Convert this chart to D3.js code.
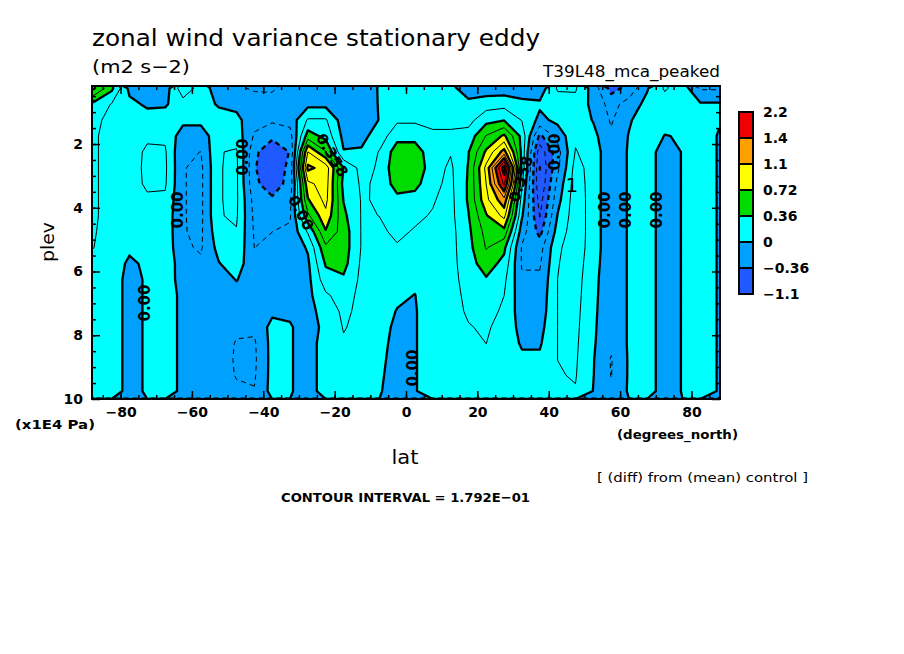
<!DOCTYPE html>
<html>
<head>
<meta charset="utf-8">
<script src="https://cdn.jsdelivr.net/npm/d3@7/dist/d3.min.js"></script>
<style>
  body { margin: 0; background: #fff; }
  text { font-family: "DejaVu Sans", Verdana, sans-serif; fill: #000; }
</style>
</head>
<body>
<div id="chart"></div>
<script>
// grid centres (lat in degrees, plev in x1E4 Pa)
const lats = [-87.5, -82.5, -77.5, -72.5, -67.5, -62.5, -57.5, -52.5, -47.5, -42.5, -37.5, -32.5,
              -27.5, -22.5, -17.5, -12.5, -7.5, -2.5, 2.5, 7.5, 12.5, 17.5, 22.5, 27.5,
              32.5, 37.5, 42.5, 47.5, 52.5, 57.5, 62.5, 67.5, 72.5, 77.5, 82.5, 87.5];
const plevs = [0.25, 0.75, 1.25, 1.75, 2.25, 2.75, 3.25, 3.75, 4.25, 4.75,
               5.25, 5.75, 6.25, 6.75, 7.25, 7.75, 8.25, 8.75, 9.25, 9.75];

// one vertical profile (top -> bottom, matching plevs) per latitude in lats
const profiles = [
  [0.74,0.3,0.22,0.2,0.2,0.2,0.2,0.2,0.2,0.19,0.18,0.16,0.15,0.15,0.15,0.15,0.15,0.15,0.15,0.15],
  [0.4,0.17,0.13,0.12,0.12,0.12,0.12,0.12,0.12,0.12,0.12,0.12,0.12,0.12,0.12,0.12,0.12,0.12,0.12,0.12],
  [-0.05,0.05,0.1,0.1,0.1,0.1,0.1,0.1,0.1,0.1,0.04,-0.04,-0.08,-0.08,-0.08,-0.08,-0.08,-0.08,-0.08,-0.08],
  [-0.12,-0.03,0.08,0.15,0.21,0.22,0.21,0.15,0.1,0.08,0.06,0.04,0.03,0.03,0.03,0.03,0.03,0.03,0.03,0.03],
  [-0.1,-0.02,0.08,0.15,0.2,0.21,0.2,0.15,0.12,0.12,0.12,0.12,0.1,0.1,0.1,0.1,0.1,0.1,0.1,0.1],
  [0.3,0.1,0.05,-0.1,-0.17,-0.17,-0.17,-0.17,-0.17,-0.17,-0.15,-0.1,-0.08,-0.05,-0.05,-0.05,-0.05,-0.05,-0.05,-0.05],
  [0.1,0.08,0.05,-0.1,-0.18,-0.22,-0.22,-0.22,-0.22,-0.21,-0.2,-0.15,-0.1,-0.1,-0.1,-0.1,-0.1,-0.1,-0.1,-0.1],
  [-0.1,-0.02,0.08,0.12,0.17,0.17,0.17,0.17,0.17,0.12,0.06,-0.01,-0.1,-0.1,-0.1,-0.1,-0.1,-0.1,-0.1,-0.1],
  [-0.15,-0.05,0.05,0.1,0.2,0.21,0.21,0.21,0.2,0.17,0.14,0.1,0.01,-0.08,-0.12,-0.15,-0.19,-0.2,-0.19,-0.15],
  [-0.2,-0.1,-0.12,-0.2,-0.32,-0.34,-0.32,-0.25,-0.22,-0.2,-0.18,-0.15,-0.12,-0.1,-0.1,-0.15,-0.2,-0.21,-0.2,-0.17],
  [-0.2,-0.12,-0.15,-0.32,-0.48,-0.52,-0.45,-0.33,-0.25,-0.18,-0.15,-0.1,-0.1,-0.08,-0.04,0.06,0.06,0.06,0.06,0.06],
  [-0.1,-0.1,-0.12,-0.25,-0.35,-0.3,-0.3,-0.22,-0.2,-0.15,-0.12,-0.1,-0.08,-0.05,-0.02,0.01,0.01,0.01,0.01,0.01],
  [-0.1,-0.05,0.2,0.45,0.9,1.12,0.85,0.7,0.5,0.2,0.02,-0.03,-0.05,-0.05,-0.05,-0.05,-0.05,-0.05,-0.05,-0.05],
  [-0.1,-0.05,0.2,0.3,0.55,1.0,0.98,0.95,0.85,0.7,0.5,0.38,0.28,0.15,0.06,0.03,0.05,0.05,0.05,0.05],
  [-0.1,-0.12,-0.1,-0.05,0.01,0.35,0.3,0.35,0.4,0.45,0.45,0.42,0.33,0.26,0.22,0.19,0.16,0.13,0.13,0.13],
  [-0.08,-0.1,-0.1,-0.05,0.02,0.12,0.16,0.17,0.17,0.17,0.17,0.15,0.14,0.13,0.13,0.13,0.13,0.13,0.13,0.13],
  [0.01,0.01,0.005,0.08,0.19,0.2,0.2,0.19,0.18,0.16,0.15,0.14,0.13,0.12,0.1,0.09,0.07,0.05,0.03,0.015],
  [0.1,0.1,0.15,0.3,0.45,0.5,0.45,0.3,0.22,0.2,0.17,0.15,0.12,0.04,-0.01,-0.05,-0.07,-0.08,-0.08,-0.08],
  [0.1,0.1,0.15,0.3,0.45,0.5,0.42,0.28,0.2,0.17,0.15,0.12,0.05,-0.005,-0.02,-0.02,-0.02,-0.02,-0.02,-0.02],
  [0.1,0.1,0.15,0.2,0.25,0.25,0.22,0.19,0.17,0.15,0.15,0.15,0.15,0.15,0.15,0.15,0.15,0.15,0.15,0.15],
  [0.05,0.1,0.15,0.2,0.19,0.15,0.14,0.13,0.13,0.12,0.12,0.12,0.12,0.12,0.12,0.12,0.12,0.12,0.12,0.12],
  [-0.1,0.05,0.12,0.25,0.35,0.37,0.38,0.38,0.35,0.32,0.3,0.28,0.25,0.22,0.2,0.17,0.15,0.14,0.13,0.13],
  [-0.1,0.1,0.3,0.55,0.75,0.95,0.9,0.85,0.7,0.6,0.55,0.45,0.34,0.28,0.24,0.2,0.18,0.16,0.15,0.15],
  [-0.1,0.12,0.35,0.75,1.15,1.9,1.65,1.2,0.95,0.65,0.4,0.3,0.22,0.18,0.15,0.12,0.1,0.1,0.1,0.1],
  [-0.1,0.05,0.17,0.3,0.3,0.3,0.2,0.1,0.02,-0.1,-0.2,-0.2,-0.15,-0.12,-0.1,-0.06,-0.02,0.03,0.05,0.05],
  [-0.1,0.03,-0.05,-0.4,-0.65,-0.72,-0.7,-0.62,-0.55,-0.42,-0.25,-0.2,-0.15,-0.12,-0.1,-0.06,-0.02,0.03,0.06,0.06],
  [0.2,0.1,0.05,-0.12,-0.25,-0.22,-0.12,-0.06,0.01,0.08,0.15,0.17,0.18,0.18,0.18,0.18,0.18,0.18,0.17,0.15],
  [0.2,0.12,0.1,0.15,0.19,0.25,0.27,0.28,0.28,0.28,0.27,0.26,0.25,0.24,0.23,0.22,0.21,0.2,0.19,0.17],
  [-0.08,-0.05,-0.01,0.05,0.1,0.1,0.1,0.1,0.1,0.1,0.1,0.08,0.06,0.05,0.04,0.03,0.02,0.01,0.005,-0.005],
  [-0.42,-0.25,-0.2,-0.15,-0.14,-0.14,-0.14,-0.14,-0.14,-0.14,-0.14,-0.14,-0.14,-0.14,-0.14,-0.14,-0.14,-0.19,-0.185,-0.14],
  [-0.3,-0.1,-0.02,0.01,0.02,0.02,0.02,0.02,0.02,0.02,0.02,0.02,0.02,0.02,0.02,0.02,0.02,0.02,0.02,0.02],
  [-0.02,0.05,0.1,0.1,0.1,0.1,0.1,0.1,0.1,0.1,0.1,0.1,0.1,0.1,0.1,0.1,0.1,0.1,0.1,0.1],
  [0.2,0.1,0.05,-0.005,-0.1,-0.1,-0.1,-0.1,-0.1,-0.1,-0.1,-0.1,-0.1,-0.1,-0.1,-0.1,-0.1,-0.1,-0.1,-0.1],
  [0.1,0.05,0.01,0.01,0.01,0.01,0.01,0.01,0.01,0.01,0.01,0.01,0.01,0.01,0.01,0.01,0.01,0.01,0.01,0.01],
  [-0.2,0.02,0.1,0.1,0.1,0.1,0.1,0.1,0.1,0.1,0.1,0.1,0.1,0.1,0.1,0.1,0.1,0.1,0.1,0.1],
  [-0.2,0.02,0.02,-0.01,-0.01,-0.01,-0.01,-0.01,-0.01,-0.01,-0.01,-0.01,-0.01,-0.01,-0.01,-0.01,-0.01,-0.01,-0.01,-0.01]
];

const interval = 0.1792;
const fillLevels = [-0.3584, 0, 0.3584, 0.7168, 1.0752, 1.4336];
const fillColors = ["#1e5aff", "#00a0ff", "#00ffff", "#00dc00", "#ffff00", "#ffa000", "#f00000"];
const legendLabels = ["\u22121.1", "\u22120.36", "0", "0.36", "0.72", "1.1", "1.4", "2.2"];
const xTicks = [-80, -60, -40, -20, 0, 20, 40, 60, 80];
const yTicks = [2, 4, 6, 8, 10];

// contour labels: [lat, plev, text, angle]
const contourLabels = [
  [-63.9, 4.07, "0.00", -90],
  [-45.7, 2.41, "0.00", -90],
  [-29.4, 4.16, "0.00", 62],
  [-20.7, 2.35, "0.358", 59],
  [-73.2, 6.99, "0.00", -90],
  [2.0, 9.03, "0.00", -90],
  [41.8, 2.25, "0.00", -90],
  [55.8, 4.07, "0.00", -90],
  [61.7, 4.07, "0.00", -90],
  [70.4, 4.07, "0.00", -90],
  [32.2, 3.1, "0.358", -72]
];

const width = 904, height = 654;
const plotL = 92, plotR = 720, plotT = 86, plotB = 399;

const svg = d3.select('#chart').append('svg')
    .attr('width', width)
    .attr('height', height);

const x = d3.scaleLinear().domain([-88, 88]).range([plotL, plotR]);
const y = d3.scaleLinear().domain([0.18, 10]).range([plotT, plotB]);

// flatten profiles into the row-major grid d3.contours wants
const n = lats.length, m = plevs.length;
const values = new Array(n * m);
profiles.forEach((col, i) => col.forEach((v, j) => { values[j * n + i] = v; }));

const dLat = lats[1] - lats[0], dP = plevs[1] - plevs[0];
const proj = d3.geoTransform({
    point(gx, gy) {
        this.stream.point(x(lats[0] + (gx - 0.5) * dLat), y(plevs[0] + (gy - 0.5) * dP));
    }
});
const path = d3.geoPath(proj);

svg.append('clipPath').attr('id', 'plotclip')
  .append('rect')
    .attr('x', plotL).attr('y', plotT)
    .attr('width', plotR - plotL).attr('height', plotB - plotT);

const plot = svg.append('g').attr('clip-path', 'url(#plotclip)');

// shaded bands
plot.append('rect')
    .attr('x', plotL).attr('y', plotT)
    .attr('width', plotR - plotL).attr('height', plotB - plotT)
    .attr('fill', fillColors[0]);

const bands = d3.contours().size([n, m]).thresholds(fillLevels)(values);
plot.selectAll('path.band')
  .data(bands)
  .join('path')
    .classed('band', true)
    .attr('d', path)
    .attr('fill', (d, i) => fillColors[i + 1]);

// contour lines every interval, negative dashed, every second one heavy
const lineLevels = d3.range(-6, 13).map(k => k * interval);
const lines = d3.contours().size([n, m]).thresholds(lineLevels)(values);
plot.selectAll('path.cline')
  .data(lines)
  .join('path')
    .classed('cline', true)
    .attr('d', path)
    .attr('fill', 'none')
    .attr('stroke', '#000')
    .attr('stroke-linejoin', 'round')
    .attr('stroke-width', d => Math.round(d.value / interval) % 2 === 0 ? 2.3 : 1)
    .attr('stroke-dasharray', d => d.value < -1e-6 ? '5,4' : null);

// contour labels
plot.selectAll('text.clabel')
  .data(contourLabels)
  .join('text')
    .classed('clabel', true)
    .attr('transform', d => `translate(${x(d[0])},${y(d[1])}) rotate(${d[3]})`)
    .attr('text-anchor', 'middle')
    .attr('dy', '0.35em')
    .style('font-size', '15px')
    .style('font-weight', 'bold')
    .text(d => d[2]);

plot.append('text')
    .attr('x', x(46.5)).attr('y', y(3.29))
    .attr('text-anchor', 'middle')
    .attr('dy', '0.35em')
    .style('font-size', '20px')
    .text('1');

// axes: major and minor ticks pointing inwards on all four sides
function styleAxis(g) {
    g.select('.domain').remove();
    g.selectAll('.tick line').attr('stroke', '#000').attr('stroke-width', 1.5);
    g.selectAll('.tick text')
        .style('font-family', '"DejaVu Sans", sans-serif')
        .style('font-size', '14px')
        .style('font-weight', 'bold');
}
const minorLat = d3.range(-85, 86, 5);
const minorLev = d3.range(0.5, 10, 0.5);

svg.append('g').attr('transform', `translate(0,${plotB})`)
    .call(d3.axisBottom(x).tickValues(minorLat).tickSize(-4).tickFormat(''))
    .call(styleAxis);
svg.append('g').attr('transform', `translate(0,${plotB})`)
    .call(d3.axisBottom(x).tickValues(xTicks).tickSize(-8).tickPadding(8)
          .tickFormat(d => d < 0 ? '\u2212' + Math.abs(d) : d))
    .call(styleAxis);
svg.append('g').attr('transform', `translate(0,${plotT})`)
    .call(d3.axisTop(x).tickValues(minorLat).tickSize(-4).tickFormat(''))
    .call(styleAxis);
svg.append('g').attr('transform', `translate(0,${plotT})`)
    .call(d3.axisTop(x).tickValues(xTicks).tickSize(-8).tickFormat(''))
    .call(styleAxis);

svg.append('g').attr('transform', `translate(${plotL},0)`)
    .call(d3.axisLeft(y).tickValues(minorLev).tickSize(-4).tickFormat(''))
    .call(styleAxis);
svg.append('g').attr('transform', `translate(${plotL},0)`)
    .call(d3.axisLeft(y).tickValues(yTicks).tickSize(-8).tickPadding(9))
    .call(styleAxis);
svg.append('g').attr('transform', `translate(${plotR},0)`)
    .call(d3.axisRight(y).tickValues(minorLev).tickSize(-4).tickFormat(''))
    .call(styleAxis);
svg.append('g').attr('transform', `translate(${plotR},0)`)
    .call(d3.axisRight(y).tickValues(yTicks).tickSize(-8).tickFormat(''))
    .call(styleAxis);

svg.append('rect')
    .attr('x', plotL).attr('y', plotT)
    .attr('width', plotR - plotL).attr('height', plotB - plotT)
    .attr('fill', 'none')
    .attr('stroke', '#000')
    .attr('stroke-width', 2);

// titles and axis names
function label(txt, xx, yy, size, opts = {}) {
    const t = svg.append('text')
        .attr('x', xx).attr('y', yy)
        .style('font-size', size + 'px')
        .text(txt);
    if (opts.bold) t.style('font-weight', 'bold');
    if (opts.anchor) t.attr('text-anchor', opts.anchor);
    if (opts.len) t.attr('textLength', opts.len).attr('lengthAdjust', 'spacingAndGlyphs');
    if (opts.rotate) t.attr('transform', `rotate(${opts.rotate},${xx},${yy})`);
    return t;
}

label('zonal wind variance stationary eddy', 92, 46, 23, { len: 448 });
label('(m2 s\u22122)', 92, 73, 18, { len: 98 });
label('T39L48_mca_peaked', 720, 77, 16, { anchor: 'end', len: 177 });
label('plev', 54, 242, 18, { anchor: 'middle', rotate: -90, len: 40 });
label('(x1E4 Pa)', 15, 429, 13, { bold: true, len: 80 });
label('(degrees_north)', 617, 439, 13, { bold: true, len: 121 });
label('lat', 405, 464, 19, { anchor: 'middle', len: 27 });
label('[ (diff) from (mean) control ]', 597, 482, 12.5, { len: 211 });
label('CONTOUR INTERVAL = 1.792E\u221201', 281, 502, 13, { bold: true, len: 249 });

// colour bar
const legX = 739, legW = 14, legTop = 112, legH = 26;
const legend = svg.append('g');
const legendColors = fillColors.slice().reverse();
legend.selectAll('rect')
  .data(legendColors)
  .join('rect')
    .attr('x', legX)
    .attr('y', (d, i) => legTop + i * legH)
    .attr('width', legW)
    .attr('height', legH)
    .attr('fill', d => d)
    .attr('stroke', '#000')
    .attr('stroke-width', 2);
legend.selectAll('text')
  .data(legendLabels.slice().reverse())
  .join('text')
    .attr('x', legX + 24)
    .attr('y', (d, i) => legTop + i * legH)
    .attr('dy', '0.35em')
    .style('font-size', '14px')
    .style('font-weight', 'bold')
    .text(d => d);
</script>
</body>
</html>
